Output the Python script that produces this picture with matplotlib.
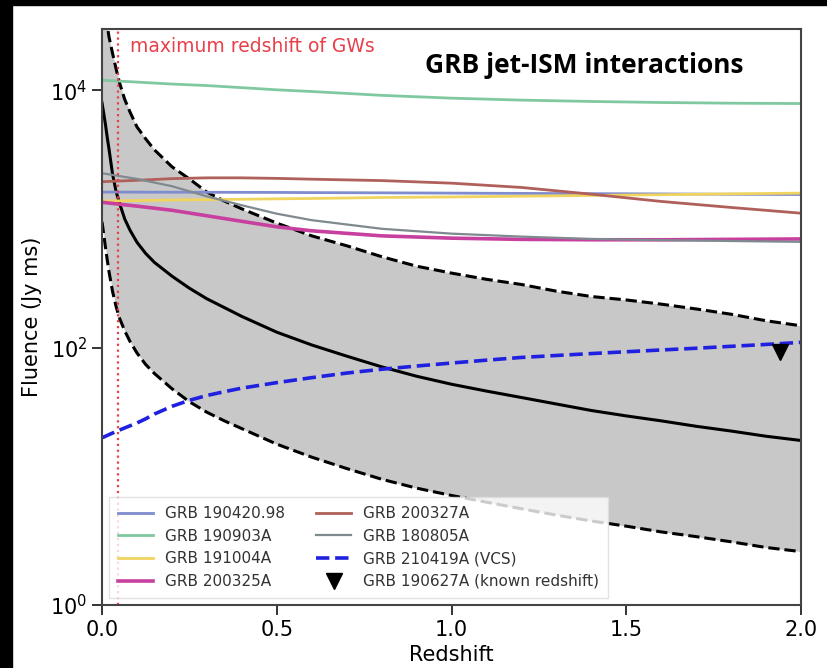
import matplotlib.pyplot as plt
from matplotlib.patches import Rectangle
from matplotlib.ticker import FixedLocator, NullLocator

# redshift grid for the fluence band and the VCS curve
z = [0.0, 0.005, 0.01, 0.015, 0.02, 0.03, 0.04, 0.05, 0.065, 0.08, 0.1, 0.125,
     0.15, 0.2, 0.25, 0.3, 0.35, 0.4, 0.5, 0.6, 0.7, 0.8, 0.9, 1.0,
     1.1, 1.2, 1.3, 1.4, 1.5, 1.6, 1.7, 1.8, 1.9, 2.0]

# fluence band (Jy ms)
median = [8000, 6600, 5400, 4300, 3500, 2250, 1650, 1330, 1000, 820, 660, 540,
          460, 360, 290, 240, 205, 175, 132, 105, 86, 71, 60, 52,
          46, 41, 36.5, 32.5, 29.5, 27, 24.5, 22.5, 20.5, 19]
upper = [63000, 50000, 41000, 32000, 26000, 19500, 14800, 11500, 8500, 6800, 5200, 4200,
         3450, 2550, 2050, 1620, 1380, 1200, 930, 740, 620, 510, 430, 380,
         340, 310, 275, 250, 235, 218, 200, 182, 162, 148]
lower = [950, 760, 600, 480, 390, 275, 210, 170, 135, 112, 91, 74,
         63, 48, 38, 31.5, 27, 23.5, 17.8, 14.1, 11.5, 9.5, 8.1, 7.1,
         6.3, 5.6, 5.0, 4.5, 4.1, 3.7, 3.4, 3.1, 2.8, 2.6]
grb_210419 = [20, 20.2, 20.5, 20.8, 21.1, 21.7, 22.3, 22.9, 23.8, 24.7, 26, 28,
              30.5, 35, 39, 42.5, 45.5, 48.5, 53.5, 58.5, 63.5, 68, 72, 76,
              80, 84, 87, 90, 93, 96, 99, 102.5, 106, 110]

# redshift grid for the individual GRB tracks
z_grb = [0.0, 0.1, 0.2, 0.3, 0.4, 0.5, 0.6, 0.8, 1.0, 1.2, 1.4, 1.6, 1.8, 2.0]
grb_190420 = [1620, 1618, 1616, 1614, 1612, 1610, 1605, 1598, 1590, 1582, 1575, 1567, 1558, 1550]
grb_190903 = [12000, 11600, 11200, 10900, 10500, 10100, 9800, 9150, 8700, 8400, 8200, 8050, 7950, 7900]
grb_191004 = [1380, 1393, 1405, 1415, 1425, 1435, 1445, 1470, 1485, 1505, 1525, 1545, 1570, 1590]
grb_200325 = [1350, 1260, 1170, 1060, 960, 870, 810, 740, 710, 695, 690, 690, 695, 700]
grb_200327 = [1950, 2000, 2060, 2090, 2090, 2070, 2040, 1990, 1900, 1760, 1560, 1370, 1230, 1110]
grb_180805 = [2270, 2050, 1800, 1500, 1280, 1100, 980, 840, 770, 730, 700, 685, 675, 665]

z_190627 = [1.94]
f_190627 = [92]

z_gw = 0.045

fig = plt.figure(figsize=(8.28, 6.68), dpi=100)
ax = fig.add_axes([0.1232, 0.0943, 0.8442, 0.8623])

ax.fill_between(z, lower, upper, color="#c8c8c8", lw=0)
ax.plot(z, upper, color="black", lw=2.2, ls="--")
ax.plot(z, lower, color="black", lw=2.2, ls="--")
ax.plot(z, median, color="black", lw=2.2)

ax.plot(z_grb, grb_190420, color="#7f8ccf", lw=2, label="GRB 190420.98")
ax.plot(z_grb, grb_190903, color="#80c9a0", lw=2, label="GRB 190903A")
ax.plot(z_grb, grb_191004, color="#f0d460", lw=2, label="GRB 191004A")
ax.plot(z_grb, grb_200325, color="#c8409f", lw=2.6, label="GRB 200325A")
ax.plot(z_grb, grb_200327, color="#b0605a", lw=2, label="GRB 200327A")
ax.plot(z_grb, grb_180805, color="#7f8a90", lw=1.6, label="GRB 180805A")
ax.plot(z, grb_210419, color="#2020e0", lw=2.6, ls="--", label="GRB 210419A (VCS)")
ax.plot(z_190627, f_190627, "v", color="black", ms=11, ls="none",
        label="GRB 190627A (known redshift)")

ax.axvline(z_gw, color="#e8404a", lw=1.6, ls=":")
ax.text(0.04, 0.969, "maximum redshift of GWs", transform=ax.transAxes,
        color="#e8404a", fontsize=13.5, va="center", ha="left")
ax.text(0.462, 0.924, "GRB jet-ISM interactions", transform=ax.transAxes,
        fontsize=19, fontweight="bold", family="Open Sans", va="baseline", ha="left")

ax.set_yscale("log")
ax.set_xlim(0, 2)
ax.set_ylim(1, 3e4)
ax.set_xticks([0.0, 0.5, 1.0, 1.5, 2.0])
ax.yaxis.set_major_locator(FixedLocator([1, 1e2, 1e4]))
ax.yaxis.set_minor_locator(NullLocator())
ax.tick_params(direction="out", length=7, width=1.4, labelsize=15, color="#333333")
for s in ax.spines.values():
    s.set_color("#444444")
    s.set_linewidth(1.5)

ax.set_xlabel("Redshift", fontsize=15)
ax.set_ylabel("Fluence (Jy ms)", fontsize=15, labelpad=6)

leg = ax.legend(loc="lower left", ncol=2, fontsize=11, framealpha=0.8,
                edgecolor="#dddddd", fancybox=False, borderaxespad=0.45,
                borderpad=0.6, handlelength=2.3, columnspacing=2.0)
for t in leg.get_texts():
    t.set_color("#333333")

# black frame strips from the screenshot
fig.add_artist(Rectangle((0, 0), 12 / 828, 1, transform=fig.transFigure,
                         color="black", zorder=10))
fig.add_artist(Rectangle((0, 1 - 5 / 668), 1, 5 / 668, transform=fig.transFigure,
                         color="black", zorder=10))

fig.savefig("out.png", dpi=100)
